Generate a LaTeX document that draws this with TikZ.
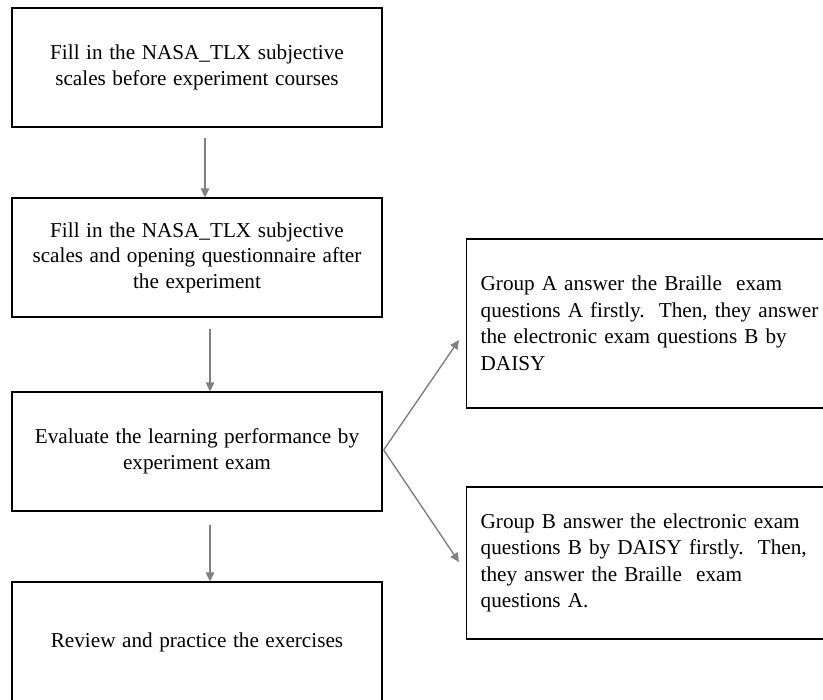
\documentclass[tikz,border=0pt]{standalone}
\usepackage{fontspec}
\setmainfont{Liberation Serif}
\usetikzlibrary{arrows.meta}
\definecolor{arrowgray}{HTML}{808080}
% slightly wider word spaces for the step boxes
\newcommand{\widerwordspace}{\spaceskip=0.31em plus 0.1em minus 0.05em\relax}
\tikzset{
  stepbox/.style={draw=black, line width=1.3pt, minimum width=370pt, minimum height=119pt,
    align=center, inner sep=0pt, font=\fontsize{21.2}{25.5}\selectfont,
    execute at begin node=\widerwordspace},
  groupbox/.style={draw=black, line width=1.3pt, anchor=west, minimum width=440pt,
    text width=412pt, inner xsep=14pt, inner ysep=0pt, align=left,
    font=\fontsize{21.2}{26.5}\selectfont},
  flow/.style={draw=arrowgray, line width=1.4pt, -{Triangle[length=9pt,width=8.5pt]}}
}
\begin{document}
\begin{tikzpicture}[x=1pt, y=-1pt]
\useasboundingbox (0,0) rectangle (823,700);
\clip (0,0) rectangle (823,700);

% main sequence
\node[stepbox] (fillbefore) at (197,67.5)
  {Fill in the NASA\_TLX subjective\\scales before experiment courses};
\node[stepbox] (fillafter) at (197,257.5)
  {Fill in the NASA\_TLX subjective\\scales and opening questionnaire after\\the experiment};
\node[stepbox] (evaluate) at (197,451.5)
  {Evaluate the learning performance by\\experiment exam};
\node[stepbox, minimum height=121pt] (review) at (197,642.5)
  {Review and practice the exercises};

% exam groups
\node[groupbox, minimum height=169pt] (groupA) at (466,323.5)
  {Group A answer the Braille\ \ exam\\questions A firstly.\ \ Then, they answer\\the electronic exam questions B by\\DAISY};
\node[groupbox, minimum height=152pt] (groupB) at (466,563)
  {Group B answer the electronic exam\\questions B by DAISY firstly.\ \ Then,\\they answer the Braille\ \ exam\\questions A.};

% connectors
\draw[flow] ([xshift=8pt,yshift=-10pt]fillbefore.south) -- ([xshift=8pt]fillafter.north);
\draw[flow] ([xshift=13pt,yshift=-11pt]fillafter.south) -- ([xshift=13pt]evaluate.north);
\draw[flow] ([xshift=13pt,yshift=-13pt]evaluate.south) -- ([xshift=13pt]review.north);
\draw[flow] ([xshift=1pt,yshift=1.5pt]evaluate.east) -- ([xshift=-7pt,yshift=-16.5pt]groupA.west);
\draw[flow] ([xshift=1pt,yshift=1.5pt]evaluate.east) -- ([xshift=-7pt,yshift=1pt]groupB.west);
\end{tikzpicture}
\end{document}
